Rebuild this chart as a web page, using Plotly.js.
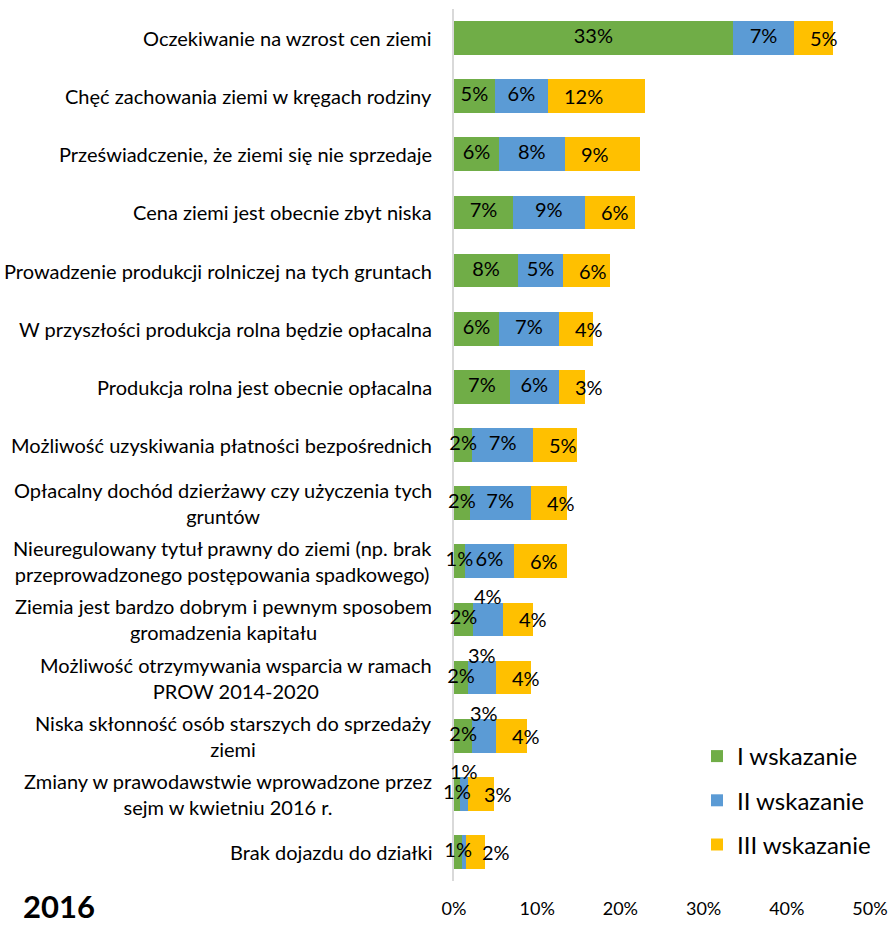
<!DOCTYPE html>
<html>
<head>
<meta charset="utf-8">
<script src="https://cdn.plot.ly/plotly-3.0.1.min.js"></script>
<style>html,body{margin:0;padding:0;background:#fff;}#chart{width:892px;height:926px;}</style>
</head>
<body>
<div id="chart"></div>
<script>
// Category labels (top to bottom)
const categories = [
  "Oczekiwanie na wzrost cen ziemi",
  "Chęć zachowania ziemi w kręgach rodziny",
  "Przeświadczenie, że ziemi się nie sprzedaje",
  "Cena ziemi jest obecnie zbyt niska",
  "Prowadzenie produkcji rolniczej na tych gruntach",
  "W przyszłości produkcja rolna będzie opłacalna",
  "Produkcja rolna jest obecnie opłacalna",
  "Możliwość uzyskiwania płatności bezpośrednich",
  "Opłacalny dochód dzierżawy czy użyczenia tych<br>gruntów",
  "Nieuregulowany tytuł prawny do ziemi (np. brak<br>przeprowadzonego postępowania spadkowego)",
  "Ziemia jest bardzo dobrym i pewnym sposobem<br>gromadzenia kapitału",
  "Możliwość otrzymywania wsparcia w ramach<br>PROW 2014-2020",
  "Niska skłonność osób starszych do sprzedaży<br>ziemi",
  "Zmiany w prawodawstwie wprowadzone przez<br>sejm w kwietniu 2016 r.",
  "Brak dojazdu do działki"
];
// Series values (%)
const wskazanie1 = [33.5, 4.9, 5.4, 7.1, 7.7, 5.4, 6.7, 2.2, 1.9, 1.3, 2.3, 1.7, 2.2, 0.7, 1.0];
const wskazanie2 = [7.4, 6.4, 7.9, 8.6, 5.4, 7.2, 5.9, 7.3, 7.3, 5.9, 3.6, 3.4, 2.9, 1.0, 0.5];
const wskazanie3 = [4.7, 11.6, 9.1, 6.0, 5.6, 4.1, 3.2, 5.3, 4.4, 6.4, 3.6, 4.1, 3.7, 3.1, 2.2];
// Data labels as shown
const labels1 = ["33%","5%","6%","7%","8%","6%","7%","2%","2%","1%","2%","2%","2%","1%","1%"];
const labels2 = ["7%","6%","8%","9%","5%","7%","6%","7%","7%","6%","4%","3%","3%","1%",""];
const labels3 = ["5%","12%","9%","6%","6%","4%","3%","5%","4%","6%","4%","4%","4%","3%","2%"];
// Which series-II labels are drawn above the bar
const raised2 = [false,false,false,false,false,false,false,false,false,false,true,true,true,true,false];
const seriesNames = ["I wskazanie", "II wskazanie", "III wskazanie"];
const xTicks = [0, 10, 20, 30, 40, 50];
const xTickText = ["0%", "10%", "20%", "30%", "40%", "50%"];

const colors = ["#70ad47", "#5b9bd5", "#ffc000"];
const FONT = "Lato, 'Liberation Sans', sans-serif";
const yIdx = categories.map((c, i) => i);

function bar(vals, name, color, grp) {
  return {
    type: "bar", orientation: "h",
    x: vals, y: yIdx, name: name, legendgroup: grp,
    marker: {color: color, line: {width: 0}},
    hoverinfo: "x+name"
  };
}
function labelTrace(centers, txt) {
  return {
    type: "scatter", mode: "text", x: centers, y: yIdx, text: txt,
    textposition: "middle center", showlegend: false, hoverinfo: "skip",
    cliponaxis: false,
    textfont: {family: FONT, size: 20, color: "#000"}
  };
}
const c1 = wskazanie1.map(v => v / 2);
const c2 = wskazanie2.map((v, i) => wskazanie1[i] + v / 2);
const start3 = wskazanie3.map((v, i) => wskazanie1[i] + wskazanie2[i]);
const text2 = labels2.map((t, i) => raised2[i] ? "" : t);

const data = [
  bar(wskazanie1, seriesNames[0], colors[0], "g1"),
  bar(wskazanie2, seriesNames[1], colors[1], "g2"),
  bar(wskazanie3, seriesNames[2], colors[2], "g3"),
  labelTrace(c1, labels1),
  labelTrace(c2, text2)
];

const annotations = [];
categories.forEach((c, i) => {
  annotations.push({
    xref: "paper", yref: "y", x: 0, y: i, xanchor: "right", yanchor: "middle",
    xshift: -20, text: c, showarrow: false, align: "center",
    font: {family: FONT, size: 20, color: "#000"}
  });
  if (raised2[i]) {
    annotations.push({
      xref: "x", yref: "y", x: c2[i], y: i,
      yshift: 23, text: labels2[i], showarrow: false,
      font: {family: FONT, size: 20, color: "#000"}
    });
  }
  // series III labels sit a fixed distance inside the segment start
  annotations.push({
    xref: "x", yref: "y", x: start3[i], y: i, xanchor: "left", yanchor: "middle",
    xshift: 14, text: labels3[i], showarrow: false,
    font: {family: FONT, size: 20, color: "#000"}
  });
});
annotations.push({
  xref: "paper", yref: "paper", x: (21 - 454) / 416, y: 1 - (906 - 9) / 872,
  xanchor: "left", yanchor: "middle", text: "<b>2016</b>", showarrow: false,
  font: {family: FONT, size: 31, color: "#000"}
});

const layout = {
  width: 892, height: 926,
  margin: {l: 454, r: 22, t: 9, b: 45, pad: 0},
  paper_bgcolor: "#fff", plot_bgcolor: "#fff",
  barmode: "stack", bargap: 0.42,
  showlegend: true,
  legend: {
    x: (697 - 454) / 416, y: 1 - (734 - 9) / 872, xanchor: "left", yanchor: "top",
    traceorder: "grouped", tracegroupgap: 10,
    font: {family: FONT, size: 24, color: "#000"},
    bgcolor: "rgba(0,0,0,0)"
  },
  xaxis: {
    range: [0, 50], tickvals: xTicks, ticktext: xTickText,
    showgrid: false, zeroline: false, showline: false, ticks: "",
    ticklabelstandoff: 15,
    tickfont: {family: FONT, size: 18, color: "#000"}, fixedrange: true
  },
  yaxis: {
    range: [categories.length - 0.5, -0.5],
    showticklabels: false, showgrid: false, zeroline: false, layer: "below traces",
    showline: true, linecolor: "#d9d9d9", linewidth: 2, ticks: "", fixedrange: true
  },
  annotations: annotations
};

Plotly.newPlot("chart", data, layout, {displayModeBar: false, staticPlot: true});
</script>
</body>
</html>
